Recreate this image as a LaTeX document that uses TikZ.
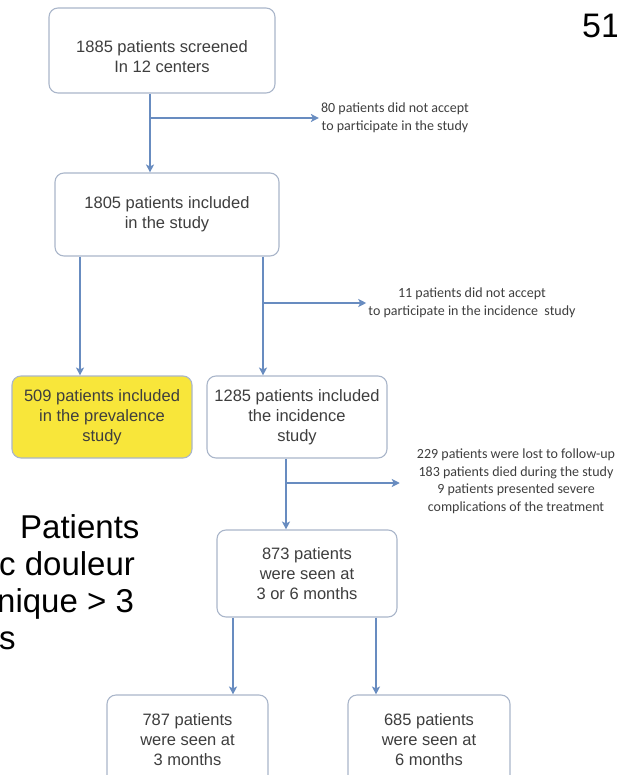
\documentclass[tikz,border=0pt]{standalone}
\usepackage{fontspec}
\setmainfont{Liberation Sans}
\newfontfamily\notefont{Carlito}
\usetikzlibrary{arrows.meta}
\definecolor{arrowblue}{RGB}{104,140,192}
\definecolor{boxline}{RGB}{170,182,202}
\definecolor{boxtext}{RGB}{62,62,62}
\definecolor{prevyellow}{RGB}{248,230,58}
\tikzset{
  flowbox/.style={draw=boxline, line width=1.1pt, rounded corners=9pt, fill=white,
    text=boxtext, align=center, inner sep=0pt, font=\fontsize{16.5}{20}\selectfont},
  sidenote/.style={align=center, text=boxtext, inner sep=1pt,
    font=\notefont\fontsize{14}{17.5}\selectfont},
  arr/.style={draw=arrowblue, line width=2pt, -{Stealth[length=8pt,width=8pt,inset=2pt]}},
}
\begin{document}
\begin{tikzpicture}[x=1pt,y=-1pt]
\useasboundingbox (0,0) rectangle (617,775);
% boxes
\node[flowbox, minimum width=226pt, minimum height=85pt] (screened) at (162,50.5)
  {\rule{0pt}{24pt}1885 patients screened\\In 12 centers};
\node[flowbox, minimum width=224pt, minimum height=83pt] (included) at (167,214.5)
  {1805 patients included\\in the study};
\node[flowbox, fill=prevyellow, minimum width=180pt, minimum height=82pt] (prevalence) at (102,417)
  {509 patients included\\in the prevalence\\study};
\node[flowbox, minimum width=180pt, minimum height=82pt] (incidence) at (297,417)
  {1285 patients included\\the incidence\\study};
\node[flowbox, minimum width=180pt, minimum height=87pt] (seen) at (307,573.5)
  {873 patients\\were seen at\\3 or 6 months};
\node[flowbox, minimum width=161pt, minimum height=90pt] (three) at (187.5,740)
  {787 patients\\were seen at\\3 months};
\node[flowbox, minimum width=162pt, minimum height=90pt] (six) at (429,740)
  {685 patients\\were seen at\\6 months};
% side notes
\node[sidenote] (refused) at (395,118) {80 patients did not accept\\to participate in the study};
\node[sidenote] (refusedinc) at (472,303) {11 patients did not accept\\to participate in the incidence\ \ study};
\node[sidenote] (lost) at (516,481.5) {229 patients were lost to follow-up\\183 patients died during the study\\9 patients presented severe\\complications of the treatment};
% slide text (base = last line)
\node[anchor=base west, align=left, inner sep=0pt, font=\fontsize{33}{37}\selectfont] (slide) at (-1,649)
  {\hspace*{21pt}Patients\\c douleur\\\hspace*{-2pt}nique > 3\\s};
\node[anchor=base west, inner sep=0pt, font=\fontsize{34}{40}\selectfont] (pageno) at (582,38) {51};
% arrow positions
\coordinate (xa) at (150,0);
\coordinate (xb) at (80,0);
\coordinate (xc) at (263,0);
\coordinate (xd) at (286,0);
\coordinate (xe) at (233,0);
\coordinate (xf) at (376,0);
% connectors
\draw[arr] (screened.south -| xa) -- (included.north -| xa);
\draw[arr] (refused.west -| xa) -- ([xshift=-1pt]refused.west);
\draw[arr] (included.south -| xb) -- (prevalence.north -| xb);
\draw[arr] (included.south -| xc) -- (incidence.north -| xc);
\draw[arr] (refusedinc.west -| xc) -- ([xshift=-1pt]refusedinc.west);
\draw[arr] (incidence.south -| xd) -- (seen.north -| xd);
\draw[arr] ([yshift=-1.5pt]lost.west -| xd) -- ([xshift=-16pt,yshift=-1.5pt]lost.west);
\draw[arr] (seen.south -| xe) -- (three.north -| xe);
\draw[arr] (seen.south -| xf) -- (six.north -| xf);
\end{tikzpicture}
\end{document}
